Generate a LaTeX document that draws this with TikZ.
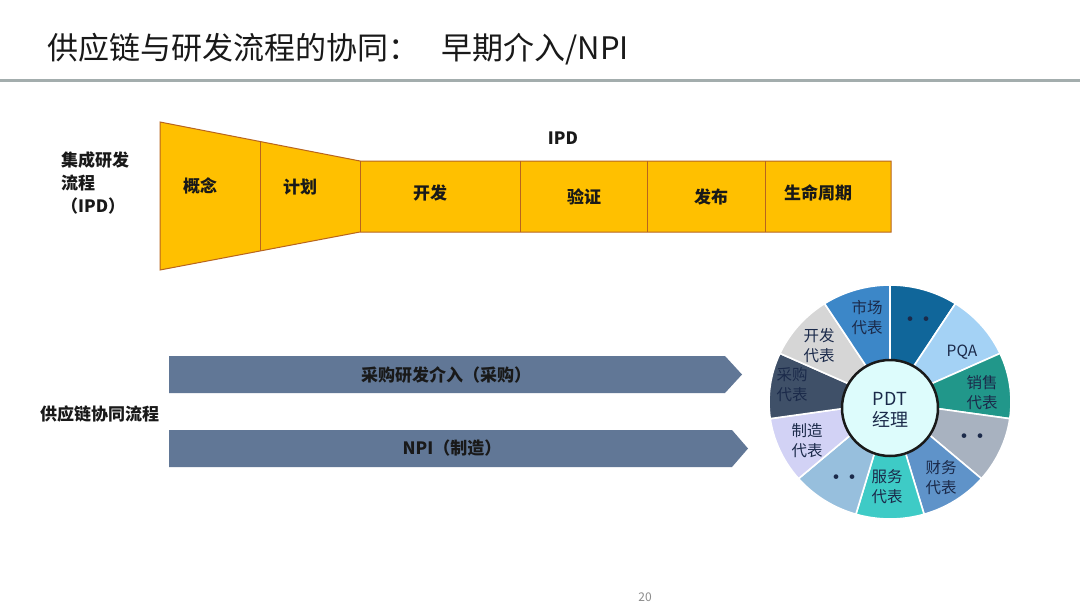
\documentclass[tikz,border=0pt]{standalone}
\usepackage{fontspec}
\setmainfont{Noto Sans CJK SC}
\definecolor{funfill}{HTML}{FFC000}
\definecolor{funline}{HTML}{B8641E}
\definecolor{arrfill}{HTML}{617796}
\definecolor{wtext}{HTML}{1B2A4A}
\definecolor{rulec}{HTML}{A3ADAD}
\definecolor{cMarket}{HTML}{3C87C8}
\definecolor{cDarkDot}{HTML}{10669A}
\definecolor{cPQA}{HTML}{A4D2F5}
\definecolor{cSales}{HTML}{21978A}
\definecolor{cGrayDot}{HTML}{A8B2C0}
\definecolor{cFin}{HTML}{5F93C9}
\definecolor{cServ}{HTML}{3ECBC6}
\definecolor{cLightDot}{HTML}{97BFDD}
\definecolor{cMfg}{HTML}{D2D2F5}
\definecolor{cPur}{HTML}{3F5068}
\definecolor{cDev}{HTML}{D6D6D6}
\definecolor{cCore}{HTML}{DDFCFC}
\begin{document}
\begin{tikzpicture}[x=1pt,y=-1pt,
  funnelshape/.style={fill=funfill,draw=funline,line width=1pt,line join=miter},
  divider/.style={draw=funline,line width=1pt},
  boldlbl/.style={font=\fontsize{17}{22}\selectfont\bfseries,text=black!90,inner sep=0pt},
  sidelbl/.style={font=\fontsize{17}{23}\selectfont\bfseries,text=black!90,inner sep=0pt,align=left},
  procarrow/.style={fill=arrfill,draw=none},
  seg/.style={draw=white,line width=1.6pt},
  wlbl/.style={font=\fontsize{15.5}{20}\selectfont,text=wtext,inner sep=0pt,align=center},
  dotlbl/.style={font=\fontsize{22}{22}\selectfont,text=wtext,inner sep=0pt}]
\useasboundingbox (0,0) rectangle (1080,608);
\fill[white] (0,0) rectangle (1080,608);

% title
\node[anchor=west,inner sep=0pt,font=\fontsize{31}{34}\selectfont,text=black!90] (title) at (47,49) {供应链与研发流程的协同：\hspace{0.72em}早期介入/NPI};
\draw[rulec,line width=3pt] (0,80) coordinate (ruleL) -- (1080,80) coordinate (ruleR);

% funnel
\path[funnelshape] (160,122) -- (360,161) -- (891,161) -- (891,232) -- (360,232) -- (160,270) -- cycle;
\draw[divider] (260,141.5) -- (260,251);
\draw[divider] (360,161) -- (360,232);
\draw[divider] (520,161) -- (520,232);
\draw[divider] (647,161) -- (647,232);
\draw[divider] (765,161) -- (765,232);
\node[boldlbl] (gainian) at (200,186) {概念};
\node[boldlbl] (jihua) at (300,187) {计划};
\node[boldlbl] (kaifa) at (430,193) {开发};
\node[boldlbl] (yanzheng) at (584,197) {验证};
\node[boldlbl] (fabu) at (711,197) {发布};
\node[boldlbl] (smzq) at (818,193) {生命周期};
\node[boldlbl] (ipd) at (563,138) {IPD};
\node[sidelbl,anchor=north west] (ipdside) at (61,151) {集成研发\\流程\\（IPD）};

% supply chain processes
\path[procarrow] (169,356) -- (725,356) -- (742,374.5) -- (725,393) -- (169,393) -- cycle;
\path[procarrow] (169,430) -- (732,430) -- (748,448.5) -- (732,467) -- (169,467) -- cycle;
\node[boldlbl] (cg) at (446,375) {采购研发介入（采购）};
\node[boldlbl] (npi) at (452,448) {NPI（制造）};
\node[boldlbl,anchor=west] (scside) at (40,414) {供应链协同流程};

% wheel
\begin{scope}[shift={(890,402)},yscale=-1]
  \foreach \i/\c in {0/cDarkDot,1/cPQA,2/cSales,3/cGrayDot,4/cFin,5/cServ,6/cLightDot,7/cMfg,8/cPur,9/cDev,10/cMarket}{
    \pgfmathsetmacro{\sa}{90-\i*360/11}
    \pgfmathsetmacro{\ea}{90-(\i+1)*360/11}
    \path[seg,fill=\c] (0,0) -- ({121*cos(\sa)},{117*sin(\sa)}) arc[start angle=\sa,end angle=\ea,x radius=121,y radius=117] -- cycle;
  }
\end{scope}
\node[circle,draw=black!90,line width=2.5pt,fill=cCore,minimum size=96pt,inner sep=0pt] (core) at (890,408) {};
\node[wlbl,font=\fontsize{18}{21}\selectfont] (pdt) at (890,410) {PDT\\经理};
\node[wlbl] (market) at (867,318) {市场\\代表};
\node[dotlbl] (dot1) at (918,322) {•\hspace{-6pt}•};
\node[wlbl] (pqa) at (962,352) {PQA};
\node[wlbl] (sales) at (982,393) {销售\\代表};
\node[dotlbl] (dot2) at (972,439) {•\hspace{-6pt}•};
\node[wlbl] (fin) at (941,478) {财务\\代表};
\node[wlbl] (serv) at (887,487) {服务\\代表};
\node[dotlbl] (dot3) at (844,480) {•\hspace{-6pt}•};
\node[wlbl] (mfg) at (807,441) {制造\\代表};
\node[wlbl] (pur) at (792,385) {采购\\代表};
\node[wlbl] (dev) at (819,346) {开发\\代表};

% page number
\node[inner sep=0pt,font=\fontsize{12}{14}\selectfont,text=black!45] (page) at (645,597) {20};
\end{tikzpicture}
\end{document}
